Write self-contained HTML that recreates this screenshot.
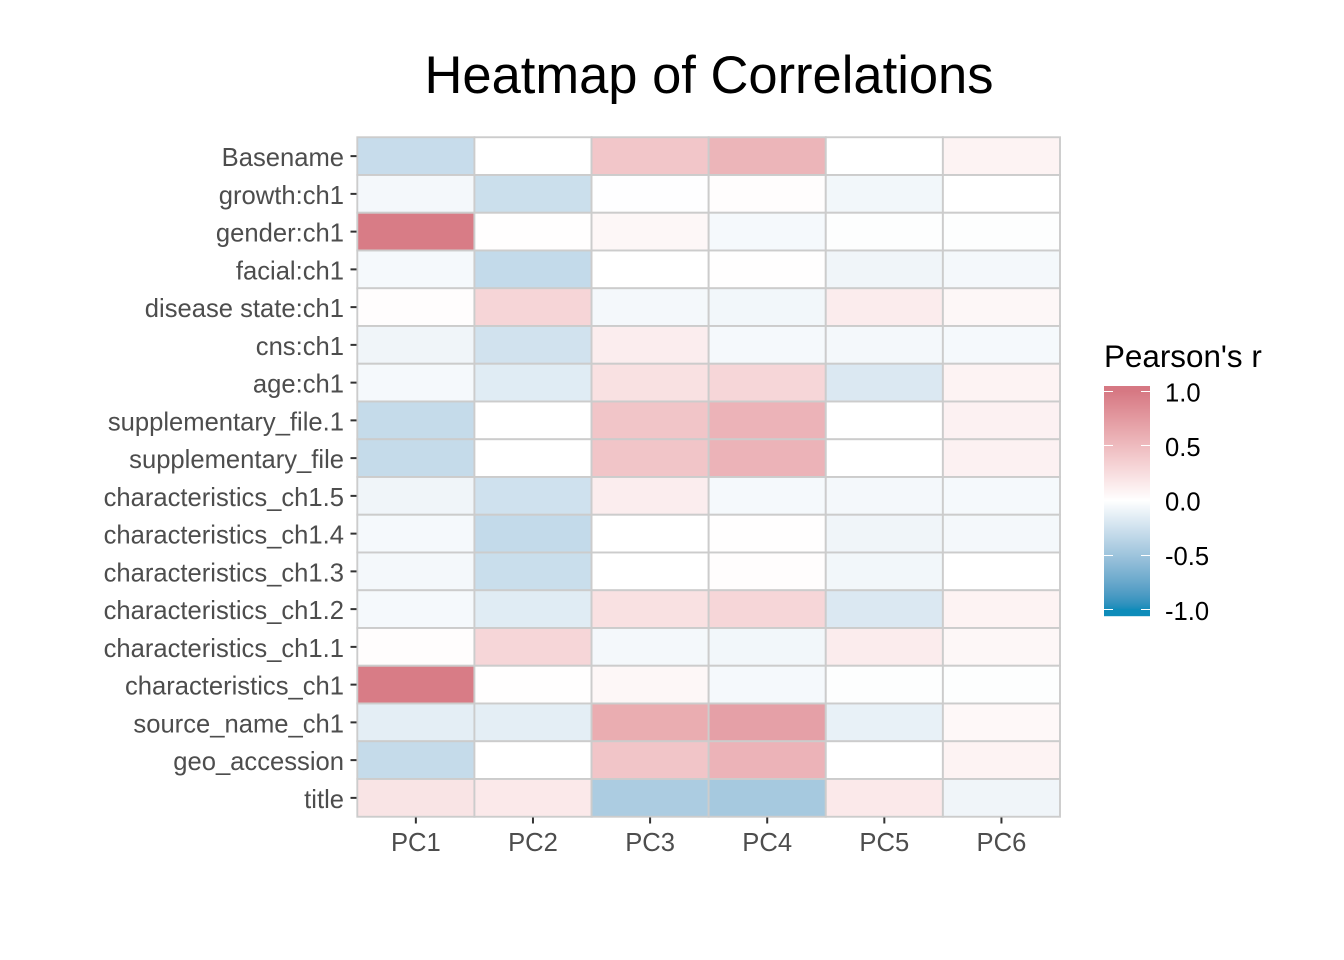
<!DOCTYPE html>
<html lang="en">
<head>
<meta charset="utf-8">
<title>Heatmap of Correlations</title>
<style>
html,body{margin:0;padding:0;background:#fff;}
body{width:1344px;height:960px;overflow:hidden;}
svg{display:block;font-family:"Liberation Sans",Arial,sans-serif;}
</style>
</head>
<body>
<svg id="chart" xmlns="http://www.w3.org/2000/svg" width="1344" height="960" viewBox="0 0 1344 960">
  <rect x="0" y="0" width="1344" height="960" fill="#ffffff"/>
  <text x="709" y="93" text-anchor="middle" font-size="52.5" fill="#000">Heatmap of Correlations</text>
  <g id="cells"></g>
  <g id="yaxis"></g>
  <g id="xaxis"></g>
  <g id="legend">
    <text x="1104" y="367" font-size="31.4" fill="#000">Pearson's r</text>
  </g>
</svg>
<script>
const categories = ["Basename","growth:ch1","gender:ch1","facial:ch1","disease state:ch1","cns:ch1","age:ch1","supplementary_file.1","supplementary_file","characteristics_ch1.5","characteristics_ch1.4","characteristics_ch1.3","characteristics_ch1.2","characteristics_ch1.1","characteristics_ch1","source_name_ch1","geo_accession","title"];
const components = ["PC1","PC2","PC3","PC4","PC5","PC6"];
const pc1 = [-0.29,-0.06,0.97,-0.05,0.015,-0.08,-0.05,-0.3,-0.3,-0.08,-0.05,-0.06,-0.05,0.015,0.97,-0.14,-0.3,0.2];
const pc2 = [0,-0.27,0.01,-0.31,0.31,-0.24,-0.16,0,0,-0.25,-0.31,-0.28,-0.16,0.3,0.01,-0.14,0,0.16];
const pc3 = [0.42,-0.005,0.06,0,-0.06,0.13,0.22,0.43,0.43,0.13,0,0,0.22,-0.06,0.06,0.61,0.43,-0.43];
const pc4 = [0.55,0.015,-0.05,0.01,-0.07,-0.05,0.3,0.56,0.56,-0.05,0.01,0.015,0.3,-0.07,-0.05,0.7,0.56,-0.46];
const pc5 = [0,-0.07,-0.01,-0.08,0.14,-0.06,-0.19,0,0,-0.06,-0.08,-0.07,-0.19,0.14,-0.01,-0.12,0,0.16];
const pc6 = [0.09,0,-0.01,-0.06,0.06,-0.05,0.09,0.1,0.1,-0.05,-0.06,0,0.09,0.06,-0.01,0.05,0.09,-0.08];
const legendTicks = [1,0.5,0,-0.5,-1];
const legendTickLabels = ["1.0","0.5","0.0","-0.5","-1.0"];

const series = [pc1,pc2,pc3,pc4,pc5,pc6];
const NS = "http://www.w3.org/2000/svg";
const panel = {left:357.3,right:1060,top:137.25,bottom:816.75};
const colW = (panel.right-panel.left)/components.length;
const rowH = (panel.bottom-panel.top)/categories.length;
const xBand = i => panel.left+i*colW;
const yBand = j => panel.top+j*rowH;

function make(tag,attrs,parent,text){
  const el = document.createElementNS(NS,tag);
  for(const k in attrs) el.setAttribute(k,attrs[k]);
  if(text!==undefined) el.textContent = text;
  parent.appendChild(el);
  return el;
}
function rgb2lab(c){
  const f = v => {v/=255;return v>0.04045?Math.pow((v+0.055)/1.055,2.4):v/12.92;};
  const r=f(c[0]),g=f(c[1]),b=f(c[2]);
  const X=(0.4124*r+0.3576*g+0.1805*b)/0.95047,Y=0.2126*r+0.7152*g+0.0722*b,Z=(0.0193*r+0.1192*g+0.9505*b)/1.08883;
  const h = t => t>0.008856?Math.cbrt(t):7.787*t+16/116;
  return [116*h(Y)-16,500*(h(X)-h(Y)),200*(h(Y)-h(Z))];
}
function lab2rgb(l){
  const fy=(l[0]+16)/116,fx=l[1]/500+fy,fz=fy-l[2]/200;
  const h = t => t*t*t>0.008856?t*t*t:(t-16/116)/7.787;
  const X=h(fx)*0.95047,Y=h(fy),Z=h(fz)*1.08883;
  const g = v => {v=Math.max(0,Math.min(1,v));return Math.round(255*(v>0.0031308?1.055*Math.pow(v,1/2.4)-0.055:12.92*v));};
  return "rgb("+g(3.2406*X-1.5372*Y-0.4986*Z)+","+g(-0.9689*X+1.8758*Y+0.0415*Z)+","+g(0.0557*X-0.2040*Y+1.0570*Z)+")";
}
const labHigh = rgb2lab([214,120,131]);
const labMid = rgb2lab([255,255,255]);
const labLow = rgb2lab([14,140,186]);
function colorScale(v){
  const end = v>=0?labHigh:labLow;
  const t = Math.min(1,Math.abs(v));
  return lab2rgb([0,1,2].map(i=>labMid[i]+(end[i]-labMid[i])*t));
}

const cellsG = document.getElementById("cells");
series.forEach((vals,i)=>{
  vals.forEach((v,j)=>{
    const cell = make("rect",{x:xBand(i),y:yBand(j),width:colW,height:rowH,fill:colorScale(v),stroke:"#cccccc","stroke-width":1.9},cellsG);
    
    
  });
});

const yG = document.getElementById("yaxis");
categories.forEach((c,j)=>{
  const yc = yBand(j)+rowH/2;
  const tick = make("line",{x1:350.5,x2:356.5,y1:yc,y2:yc,stroke:"#333333","stroke-width":2},yG);
  
  
  const lab = make("text",{x:344,y:yc+10,"text-anchor":"end","font-size":25.6,fill:"#4d4d4d"},yG,c);
  
  
});

const xG = document.getElementById("xaxis");
components.forEach((c,i)=>{
  const xc = xBand(i)+colW/2;
  const tick = make("line",{x1:xc,x2:xc,y1:817.5,y2:823.5,stroke:"#333333","stroke-width":2},xG);
  
  
  const lab = make("text",{x:xc,y:851,"text-anchor":"middle","font-size":25.6,fill:"#4d4d4d"},xG,c);
  
  
});

const lg = document.getElementById("legend");
const bar = {x:1104,w:46,top:386,bottom:616,zero:500.5,unit:109.25};
const yLegend = v => bar.zero-v*bar.unit;
const barG = make("g",{},lg);


for(let y=bar.top;y<bar.bottom;y++){
  const v = (bar.zero-(y+0.5))/bar.unit;
  const strip = make("rect",{x:bar.x,y:y,width:bar.w,height:1.2,fill:colorScale(v)},barG);
  
  
}
legendTicks.forEach((v,k)=>{
  const y = yLegend(v);
  const ySnap = Math.floor(y)+0.5;
  const t1 = make("line",{x1:bar.x,x2:bar.x+9,y1:ySnap,y2:ySnap,stroke:"#ffffff","stroke-width":1},lg);
  
  
  const t2 = make("line",{x1:bar.x+bar.w-9,x2:bar.x+bar.w,y1:ySnap,y2:ySnap,stroke:"#ffffff","stroke-width":1},lg);
  
  
  const lab = make("text",{x:1165,y:y+10,"font-size":25.6,fill:"#000"},lg,legendTickLabels[k]);
  
  
});
</script>
</body>
</html>
